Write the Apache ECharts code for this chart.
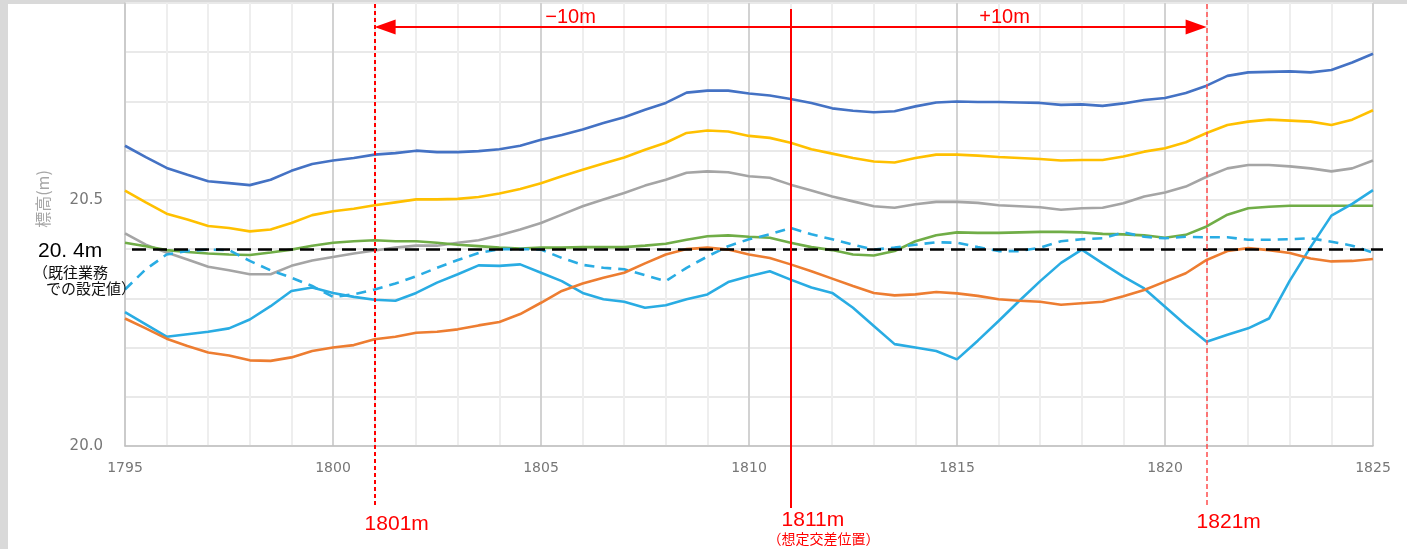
<!DOCTYPE html>
<html><head><meta charset="utf-8">
<script src="https://cdn.jsdelivr.net/npm/echarts@6/dist/echarts.min.js"></script>
<style>html,body{margin:0;padding:0;background:#fff}#c{width:1407px;height:549px}</style>
</head><body><div id="c"></div>
<script>
// ---------------- data ----------------
const distances = [1795,1795.5,1796,1796.5,1797,1797.5,1798,1798.5,1799,1799.5,
  1800,1800.5,1801,1801.5,1802,1802.5,1803,1803.5,1804,1804.5,
  1805,1805.5,1806,1806.5,1807,1807.5,1808,1808.5,1809,1809.5,
  1810,1810.5,1811,1811.5,1812,1812.5,1813,1813.5,1814,1814.5,
  1815,1815.5,1816,1816.5,1817,1817.5,1818,1818.5,1819,1819.5,
  1820,1820.5,1821,1821.5,1822,1822.5,1823,1823.5,1824,1824.5,1825];

const lineDarkBlue = [20.610,20.587,20.565,20.551,20.538,20.534,20.530,20.541,20.559,20.573,
  20.580,20.585,20.592,20.595,20.600,20.597,20.597,20.599,20.603,20.610,
  20.622,20.632,20.643,20.656,20.668,20.683,20.697,20.718,20.722,20.722,
  20.716,20.712,20.705,20.697,20.686,20.681,20.678,20.680,20.690,20.698,
  20.700,20.699,20.699,20.698,20.697,20.693,20.694,20.691,20.696,20.703,
  20.707,20.717,20.732,20.752,20.759,20.760,20.761,20.759,20.764,20.779,20.797];

const lineYellow = [20.519,20.495,20.472,20.460,20.447,20.443,20.436,20.440,20.453,20.469,
  20.477,20.482,20.489,20.495,20.501,20.501,20.502,20.506,20.513,20.522,
  20.534,20.548,20.561,20.574,20.586,20.602,20.616,20.636,20.641,20.639,
  20.630,20.626,20.616,20.603,20.594,20.585,20.578,20.576,20.585,20.592,
  20.592,20.590,20.587,20.585,20.583,20.580,20.581,20.581,20.588,20.598,
  20.605,20.617,20.636,20.652,20.659,20.663,20.661,20.659,20.652,20.663,20.682];

const lineGrey = [20.432,20.409,20.393,20.379,20.364,20.357,20.349,20.349,20.366,20.377,
  20.384,20.391,20.397,20.403,20.407,20.407,20.413,20.418,20.428,20.440,
  20.453,20.470,20.487,20.501,20.514,20.529,20.541,20.555,20.558,20.556,
  20.548,20.545,20.531,20.519,20.507,20.497,20.487,20.484,20.491,20.496,
  20.496,20.494,20.489,20.487,20.485,20.480,20.483,20.484,20.493,20.507,
  20.515,20.527,20.547,20.564,20.571,20.571,20.568,20.564,20.558,20.564,20.580];

const lineGreen = [20.413,20.406,20.398,20.394,20.391,20.389,20.388,20.393,20.399,20.407,
  20.413,20.416,20.418,20.416,20.416,20.413,20.409,20.406,20.403,20.401,
  20.403,20.403,20.404,20.404,20.404,20.407,20.411,20.419,20.426,20.428,
  20.425,20.423,20.413,20.404,20.398,20.389,20.387,20.396,20.416,20.428,
  20.434,20.433,20.433,20.434,20.435,20.435,20.434,20.431,20.430,20.428,
  20.423,20.429,20.446,20.470,20.483,20.486,20.488,20.488,20.488,20.488,20.488];

const lineCyanDashed = [20.318,20.359,20.389,20.396,20.399,20.398,20.376,20.357,20.342,20.325,
  20.303,20.308,20.318,20.330,20.345,20.362,20.378,20.392,20.400,20.400,
  20.399,20.382,20.368,20.362,20.359,20.347,20.335,20.362,20.385,20.406,
  20.420,20.430,20.443,20.430,20.420,20.409,20.399,20.403,20.409,20.414,
  20.413,20.404,20.396,20.396,20.403,20.416,20.420,20.422,20.434,20.425,
  20.422,20.425,20.424,20.424,20.419,20.419,20.420,20.422,20.415,20.407,20.393];

const lineCyan = [20.272,20.247,20.222,20.227,20.232,20.239,20.257,20.284,20.315,20.322,
  20.311,20.303,20.297,20.295,20.311,20.332,20.349,20.367,20.366,20.369,
  20.352,20.335,20.311,20.298,20.293,20.281,20.286,20.298,20.308,20.333,
  20.345,20.355,20.338,20.322,20.311,20.281,20.244,20.207,20.200,20.193,
  20.176,20.214,20.254,20.295,20.335,20.372,20.399,20.371,20.344,20.320,
  20.283,20.246,20.212,20.226,20.239,20.259,20.336,20.404,20.468,20.492,20.520];

const lineOrange = [20.259,20.239,20.218,20.203,20.190,20.184,20.174,20.173,20.180,20.193,
  20.200,20.205,20.217,20.222,20.230,20.232,20.237,20.245,20.252,20.268,
  20.291,20.315,20.330,20.342,20.352,20.371,20.389,20.400,20.403,20.399,
  20.389,20.382,20.369,20.355,20.340,20.325,20.311,20.306,20.308,20.313,
  20.310,20.305,20.298,20.295,20.293,20.287,20.290,20.293,20.304,20.317,
  20.334,20.351,20.378,20.396,20.402,20.398,20.392,20.381,20.375,20.376,20.380];

const xTickLabels = [1795,1800,1805,1810,1815,1820,1825];
const yTickLabels = ['20.0','20.5'];
const designLevel = 20.4;
const crossPos = 1811;
const rangeStart = 1801;
const rangeEnd = 1821;
const rangeTexts = ['\u221210m', '+10m'];
const posTexts = ['1801m', '1811m', '1821m'];
const crossNote = '（想定交差位置）';
const designTexts = ['20. 4m', '（既往業務', 'での設定値）'];
const yName = '標高(m)';

// ---------------- layout ----------------
const W = 1407, H = 549;
const G = {left:125, right:34, top:3, bottom:103};
const X0 = 1795, X1 = 1825, Y0 = 20.0, Y1 = 20.9;
const pxX = (W - G.left - G.right) / (X1 - X0);
const pxY = (H - G.top - G.bottom) / (Y1 - Y0);
const xPx = v => G.left + (v - X0) * pxX;
const yPx = v => H - G.bottom - (v - Y0) * pxY;
const xVal = p => X0 + (p - G.left) / pxX;
const yVal = p => Y0 + (H - G.bottom - p) / pxY;

const pair = arr => distances.map((d, i) => [d, arr[i]]);
const RED = '#ff0000';

function mkLine(name, arr, color, dashed) {
  return {
    name, type:'line', data: pair(arr), xAxisIndex:0, yAxisIndex:0,
    showSymbol:false, symbol:'none', animation:false, z:3,
    lineStyle:{color, width:2.6, type: dashed ? [10,7] : 'solid', cap:'butt'}
  };
}

const chart = echarts.init(document.getElementById('c'), null, {renderer:'canvas'});

const topY = yVal(4), botY = yVal(508), arrowY = yVal(27);
const arrowH = 21;

const overlay = (markLine) => ({
  type:'line', xAxisIndex:1, yAxisIndex:1, data:[], silent:true, animation:false, z:5,
  markLine: Object.assign({silent:true, animation:false, label:{show:false}}, markLine)
});

const option = {
  backgroundColor:'#d9d9d9',
  animation:false,
  grid:[
    {left:G.left, right:G.right, top:G.top, bottom:G.bottom, containLabel:false},
    {left:0, right:0, top:0, bottom:0, containLabel:false}
  ],
  xAxis:[
    {type:'value', gridIndex:0, min:X0, max:X1, interval:5,
     axisLine:{show:true, lineStyle:{color:'#bfbfbf', width:1.5}},
     axisTick:{show:false},
     axisLabel:{color:'#777777', fontSize:14, fontFamily:'DejaVu Sans', margin:15,
       formatter: v => xTickLabels.includes(Math.round(v)) ? String(Math.round(v)) : ''},
     splitLine:{show:true, lineStyle:{color:'#d2d2d2', width:2}},
     minorTick:{show:false, splitNumber:5},
     minorSplitLine:{show:true, lineStyle:{color:'#eeeeee', width:2}}},
    {type:'value', gridIndex:1, min:xVal(0), max:xVal(W), show:false}
  ],
  yAxis:[
    {type:'value', gridIndex:0, min:Y0, max:Y1, interval:0.1,
     axisLine:{show:true, lineStyle:{color:'#c8c8c8', width:1.5}},
     axisTick:{show:false},
     axisLabel:{color:'#777777', fontSize:15, fontFamily:'DejaVu Sans', margin:22,
       formatter: v => yTickLabels.includes(v.toFixed(1)) ? v.toFixed(1) : ''},
     splitLine:{show:true, lineStyle:{color:'#e9e9e9', width:2}}},
    {type:'value', gridIndex:1, min:yVal(H), max:yVal(0), show:false}
  ],
  series:[
    mkLine('A', lineDarkBlue, '#4472c4'),
    mkLine('B', lineYellow, '#ffc000'),
    mkLine('C', lineGrey, '#a5a5a5'),
    mkLine('D', lineGreen, '#70ad47'),
    mkLine('E', lineCyanDashed, '#29ace3', true),
    mkLine('F', lineCyan, '#29ace3'),
    mkLine('G', lineOrange, '#ed7d31'),
    overlay({symbol:'none', lineStyle:{color:'#000', width:2.5, type:[14,7]},
      data:[[{coord:[xVal(132), designLevel]}, {coord:[xVal(1383), designLevel]}]]}),
    overlay({symbol:'none', lineStyle:{color:RED, width:2, type:[4,3]},
      data:[[{coord:[rangeStart, topY]}, {coord:[rangeStart, botY]}]]}),
    overlay({symbol:'none', lineStyle:{color:'#ff4d4d', width:1.5, type:[5,3]},
      data:[[{coord:[rangeEnd, topY]}, {coord:[rangeEnd, botY]}]]}),
    overlay({symbol:'none', lineStyle:{color:RED, width:2, type:'solid'},
      data:[[{coord:[crossPos, yVal(9)]}, {coord:[crossPos, botY]}]]}),
    overlay({symbol:['none','triangle'], symbolSize:[15, arrowH], lineStyle:{color:RED, width:2, type:'solid'},
      itemStyle:{color:RED},
      data:[
        [{coord:[crossPos, arrowY]}, {coord:[xVal(xPx(rangeStart) + arrowH/2), arrowY]}],
        [{coord:[crossPos, arrowY]}, {coord:[xVal(xPx(rangeEnd) - arrowH/2), arrowY]}]
      ]})
  ],
  graphic:[
    {type:'rect', z:-100, silent:true, shape:{x:8, y:4, width:W-8, height:H-4}, style:{fill:'#ffffff'}},
    {type:'text', z:10, style:{text:rangeTexts[0], x:(xPx(rangeStart)+xPx(crossPos))/2 - 12, y:17,
      textAlign:'center', textVerticalAlign:'middle', fill:RED, fontSize:20, fontFamily:'Liberation Sans'}},
    {type:'text', z:10, style:{text:rangeTexts[1], x:(xPx(crossPos)+xPx(rangeEnd))/2 + 6, y:17,
      textAlign:'center', textVerticalAlign:'middle', fill:RED, fontSize:20, fontFamily:'Liberation Sans'}},
    {type:'text', z:10, style:{text:posTexts[0], x:xPx(rangeStart) - 10, y:524,
      textAlign:'left', textVerticalAlign:'middle', fill:RED, fontSize:21, fontFamily:'Liberation Sans'}},
    {type:'text', z:10, style:{text:posTexts[1], x:xPx(crossPos) - 9, y:520,
      textAlign:'left', textVerticalAlign:'middle', fill:RED, fontSize:21, fontFamily:'Liberation Sans'}},
    {type:'text', z:10, style:{text:crossNote, x:xPx(crossPos) + 33, y:539,
      textAlign:'center', textVerticalAlign:'middle', fill:RED, fontSize:14, fontFamily:'Noto Sans CJK JP'}},
    {type:'text', z:10, style:{text:posTexts[2], x:xPx(rangeEnd) - 10, y:522,
      textAlign:'left', textVerticalAlign:'middle', fill:RED, fontSize:21, fontFamily:'Liberation Sans'}},
    {type:'text', z:10, style:{text:designTexts[0], x:38, y:yPx(designLevel) + 2,
      textAlign:'left', textVerticalAlign:'middle', fill:'#000', fontSize:21, fontFamily:'Liberation Sans'}},
    {type:'text', z:10, style:{text:designTexts[1], x:33, y:272,
      textAlign:'left', textVerticalAlign:'middle', fill:'#111', fontSize:15, fontFamily:'Noto Sans CJK JP'}},
    {type:'text', z:10, style:{text:designTexts[2], x:46, y:288,
      textAlign:'left', textVerticalAlign:'middle', fill:'#111', fontSize:15, fontFamily:'Noto Sans CJK JP'}},
    {type:'text', z:10, x:43, y:199, rotation:Math.PI/2, style:{text:yName, x:0, y:0,
      textAlign:'center', textVerticalAlign:'middle', fill:'#a6a6a6', fontSize:16, fontFamily:'Noto Sans CJK JP'}}
  ]
};
chart.setOption(option);
</script></body></html>
